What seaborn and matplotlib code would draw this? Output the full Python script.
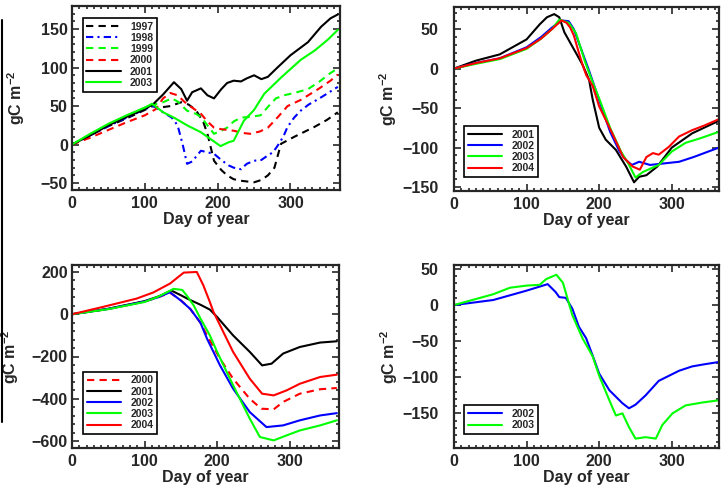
import matplotlib
matplotlib.use("Agg")
import matplotlib.pyplot as plt
from matplotlib.lines import Line2D
from matplotlib.ticker import MultipleLocator
import seaborn as sns

# top-left panel
tl_1997_d = [0, 25, 50, 75, 100, 110, 120, 135, 150, 160, 170, 180, 186, 195, 205, 213, 222, 232, 250, 260, 269, 278, 287, 295, 305, 320, 333, 350, 365]
tl_1997_v = [0, 12, 24, 34, 45, 50, 48, 50, 55, 52, 45, 30, 14, -21, -33, -40, -45, -47, -49, -46, -40, -30, 1, 5, 10, 17, 23, 32, 42]
tl_1998_d = [0, 25, 50, 75, 100, 112, 125, 137, 145, 152, 158, 165, 177, 186, 195, 205, 215, 222, 232, 240, 250, 260, 269, 276, 282, 290, 296, 305, 314, 325, 338, 350, 365]
tl_1998_v = [0, 12, 24, 35, 46, 50, 42, 35, 25, 0, -25, -22, -8, -10, -12, -20, -27, -30, -32, -25, -21, -20, -14, -10, -2, 10, 23, 35, 44, 52, 59, 66, 75]
tl_1999_d = [0, 25, 50, 75, 100, 112, 125, 137, 145, 158, 170, 177, 186, 195, 205, 213, 222, 232, 245, 259, 270, 280, 291, 305, 324, 340, 355, 365]
tl_1999_v = [0, 13, 26, 37, 48, 52, 55, 60, 56, 44, 40, 36, 25, 14, 18, 22, 30, 35, 36, 38, 50, 60, 64, 67, 72, 82, 93, 99]
tl_2000_d = [0, 25, 50, 75, 100, 115, 125, 135, 145, 155, 165, 177, 186, 195, 205, 222, 235, 245, 258, 269, 282, 296, 314, 338, 355, 365]
tl_2000_v = [0, 9, 19, 29, 38, 46, 60, 67, 64, 55, 48, 40, 30, 22, 20, 18, 15, 14, 17, 22, 35, 50, 58, 72, 83, 91]
tl_2001_d = [0, 25, 50, 75, 100, 112, 125, 140, 150, 158, 165, 177, 186, 195, 205, 213, 222, 232, 240, 250, 260, 269, 282, 300, 324, 342, 355, 365]
tl_2001_v = [0, 12, 25, 36, 46, 53, 65, 81, 72, 57, 68, 73, 64, 60, 72, 80, 83, 82, 86, 90, 85, 88, 100, 116, 133, 153, 164, 169]
tl_2003_d = [0, 25, 50, 75, 100, 110, 125, 140, 158, 177, 186, 204, 215, 222, 236, 250, 264, 287, 314, 333, 351, 365]
tl_2003_v = [0, 14, 27, 38, 48, 53, 42, 35, 25, 16, 10, -2, 3, 5, 31, 45, 66, 87, 110, 122, 136, 149]

# top-right panel
tr_2001_d = [0, 30, 63, 100, 118, 128, 138, 145, 152, 163, 177, 186, 191, 200, 209, 223, 237, 248, 255, 265, 280, 300, 328, 365]
tr_2001_v = [0, 10, 18, 37, 56, 65, 69, 65, 46, 28, 5, -14, -39, -75, -90, -103, -124, -144, -137, -135, -124, -100, -82, -66]
tr_2002_d = [0, 30, 63, 100, 120, 135, 148, 158, 165, 175, 185, 200, 215, 228, 237, 245, 255, 270, 290, 310, 330, 365]
tr_2002_v = [0, 7, 13, 27, 40, 52, 61, 60, 50, 25, 0, -40, -80, -105, -116, -122, -118, -122, -120, -118, -112, -100]
tr_2003_d = [0, 30, 63, 100, 120, 135, 145, 158, 168, 180, 190, 200, 215, 230, 240, 250, 260, 282, 300, 319, 340, 365]
tr_2003_v = [0, 6, 12, 25, 38, 50, 62, 58, 45, 10, -15, -38, -75, -105, -120, -138, -131, -122, -105, -94, -88, -80]
tr_2004_d = [0, 30, 63, 100, 120, 135, 148, 155, 160, 165, 172, 177, 182, 191, 200, 218, 233, 246, 256, 265, 274, 282, 296, 310, 328, 345, 365]
tr_2004_v = [0, 7, 13, 26, 38, 50, 61, 58, 52, 42, 20, 5, -8, -22, -48, -82, -112, -124, -128, -112, -107, -109, -99, -86, -78, -72, -64]

# bottom-left panel
bl_2000_d = [0, 50, 100, 120, 135, 150, 163, 177, 186, 204, 222, 245, 261, 278, 291, 314, 342, 365]
bl_2000_v = [0, 25, 60, 82, 102, 66, 25, -40, -100, -210, -305, -400, -447, -450, -415, -376, -355, -349]
bl_2001_d = [0, 50, 100, 120, 137, 150, 160, 177, 190, 200, 222, 245, 262, 275, 291, 314, 342, 365]
bl_2001_v = [0, 26, 62, 85, 112, 90, 72, 45, 22, -13, -100, -178, -242, -234, -186, -155, -134, -128]
bl_2002_d = [0, 50, 100, 120, 135, 150, 163, 177, 186, 204, 222, 245, 268, 291, 314, 342, 365]
bl_2002_v = [0, 25, 60, 82, 104, 65, 25, -40, -115, -242, -352, -463, -534, -526, -502, -479, -468]
bl_2003_d = [0, 50, 100, 120, 140, 152, 160, 168, 177, 190, 200, 222, 245, 259, 278, 296, 314, 342, 365]
bl_2003_v = [0, 24, 58, 85, 120, 115, 80, 40, -20, -100, -178, -336, -494, -581, -597, -573, -550, -526, -502]
bl_2004_d = [0, 43, 89, 112, 135, 154, 172, 181, 190, 195, 222, 245, 262, 278, 296, 314, 342, 365]
bl_2004_v = [0, 35, 74, 103, 145, 197, 200, 137, 58, 11, -178, -305, -376, -384, -360, -329, -297, -286]

# bottom-right panel
br_2002_d = [0, 54, 100, 129, 140, 145, 154, 163, 172, 182, 191, 200, 214, 232, 241, 250, 264, 282, 310, 328, 345, 364]
br_2002_v = [0, 7, 20, 29, 18, 11, 10, -5, -30, -46, -70, -95, -118, -136, -143, -138, -125, -105, -91, -85, -82, -79]
br_2003_d = [0, 54, 77, 100, 118, 127, 141, 150, 163, 177, 191, 200, 214, 223, 232, 241, 250, 264, 278, 287, 301, 319, 342, 364]
br_2003_v = [0, 15, 24, 27, 28, 36, 42, 31, -14, -46, -71, -98, -132, -153, -150, -169, -185, -183, -185, -166, -150, -139, -135, -132]

sns.set_style("ticks")
plt.rcParams['font.family'] = ['Liberation Sans', 'DejaVu Sans']
plt.rcParams['font.weight'] = 'bold'
plt.rcParams['mathtext.fontset'] = 'custom'
plt.rcParams['mathtext.rm'] = 'Liberation Sans:bold'
plt.rcParams['mathtext.bf'] = 'Liberation Sans:bold'
plt.rcParams['mathtext.default'] = 'bf'

GREEN = '#00ff00'
DASH = (0, (3.5, 2.5))
DASHDOT = (0, (3.5, 2.0, 1.0, 2.0))

fig = plt.figure(figsize=(7.21, 4.87), dpi=100)
W, H = 721, 487


def make_ax(x0, x1, y0, y1):
    return fig.add_axes([x0 / W, 1 - y1 / H, (x1 - x0) / W, (y1 - y0) / H])


def style(ax, ylim, ymaj, ymin, xmax, pad, labx):
    ax.set_xlim(0, xmax)
    ax.set_ylim(*ylim)
    ax.xaxis.set_major_locator(MultipleLocator(100))
    ax.xaxis.set_minor_locator(MultipleLocator(10))
    ax.yaxis.set_major_locator(MultipleLocator(ymaj))
    ax.yaxis.set_minor_locator(MultipleLocator(ymin))
    ax.tick_params(which='both', direction='in', top=True, right=True,
                   width=1.2, labelsize=11.5)
    ax.tick_params(which='major', length=5)
    ax.tick_params(which='minor', length=2.5)
    ax.tick_params(axis='y', pad=pad)
    ax.tick_params(axis='x', pad=4)
    for s in ax.spines.values():
        s.set_linewidth(1.6)
    ax.set_xlabel('Day of year', fontsize=11.5, fontweight='bold', labelpad=1)
    ax.set_ylabel('gC m$^{-2}$', fontsize=11.5, fontweight='bold')
    ax.yaxis.set_label_coords(labx, 0.5)


def leg(ax, loc, anchor):
    lg = ax.legend(loc=loc, bbox_to_anchor=anchor, borderaxespad=0,
                   frameon=True, fancybox=False, edgecolor='black', framealpha=1,
                   handlelength=3.3, handletextpad=0.9, labelspacing=0.12,
                   borderpad=0.35, prop={'weight': 'bold', 'size': 7.5})
    lg.get_frame().set_linewidth(1.2)


def draw(ax, d, v, color, ls, label):
    sns.lineplot(x=d, y=v, ax=ax, color=color, linestyle=ls, lw=1.5, label=label)


# top-left
ax1 = make_ax(72, 340, 6, 190)
draw(ax1, tl_1997_d, tl_1997_v, 'black', DASH, '1997')
draw(ax1, tl_1998_d, tl_1998_v, 'blue', DASHDOT, '1998')
draw(ax1, tl_1999_d, tl_1999_v, GREEN, DASH, '1999')
draw(ax1, tl_2000_d, tl_2000_v, 'red', DASH, '2000')
draw(ax1, tl_2001_d, tl_2001_v, 'black', '-', '2001')
draw(ax1, tl_2003_d, tl_2003_v, GREEN, '-', '2003')
style(ax1, (-59, 180), 50, 10, 368, 3, -0.168)
leg(ax1, 'upper left', (0.04, 0.935))

# top-right
ax2 = make_ax(454, 719, 7, 191)
draw(ax2, tr_2001_d, tr_2001_v, 'black', '-', '2001')
draw(ax2, tr_2002_d, tr_2002_v, 'blue', '-', '2002')
draw(ax2, tr_2003_d, tr_2003_v, GREEN, '-', '2003')
draw(ax2, tr_2004_d, tr_2004_v, 'red', '-', '2004')
style(ax2, (-155, 78), 50, 10, 365, 11, -0.208)
leg(ax2, 'lower left', (0.038, 0.076))

# bottom-left
ax3 = make_ax(72, 339, 265, 448)
draw(ax3, bl_2000_d, bl_2000_v, 'red', DASH, '2000')
draw(ax3, bl_2001_d, bl_2001_v, 'black', '-', '2001')
draw(ax3, bl_2002_d, bl_2002_v, 'blue', '-', '2002')
draw(ax3, bl_2003_d, bl_2003_v, GREEN, '-', '2003')
draw(ax3, bl_2004_d, bl_2004_v, 'red', '-', '2004')
style(ax3, (-633, 233), 200, 40, 368, 3, -0.19)
leg(ax3, 'lower left', (0.041, 0.077))

# bottom-right
ax4 = make_ax(454, 719, 265, 448)
draw(ax4, br_2002_d, br_2002_v, 'blue', '-', '2002')
draw(ax4, br_2003_d, br_2003_v, GREEN, '-', '2003')
style(ax4, (-198, 55.5), 50, 10, 365, 11, -0.204)
leg(ax4, 'lower left', (0.038, 0.077))

# stray vertical rule at the left edge of the scan
fig.add_artist(Line2D([1.5 / W, 1.5 / W], [1 - 20 / H, 1 - 422 / H], color='black', lw=1.5))

fig.savefig('out.png', dpi=100)
